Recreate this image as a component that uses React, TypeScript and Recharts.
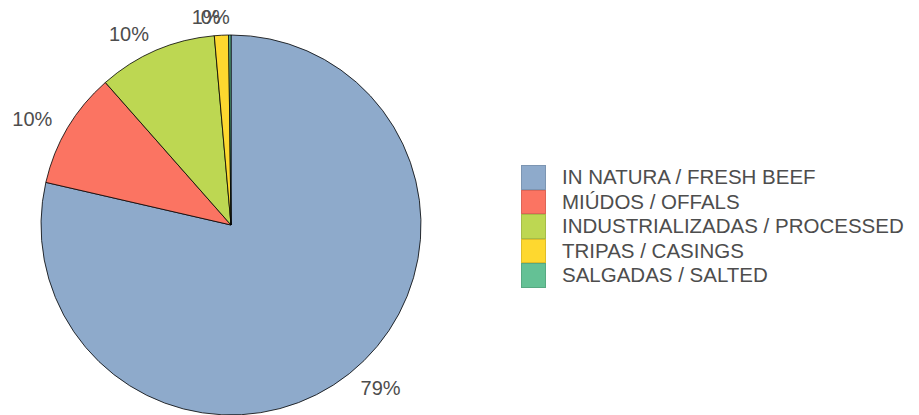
import { Pie, PieChart } from "recharts";

const categories = [
  "IN NATURA / FRESH BEEF",
  "MIÚDOS / OFFALS",
  "INDUSTRIALIZADAS / PROCESSED",
  "TRIPAS / CASINGS",
  "SALGADAS / SALTED"
];
const shares = [78.6, 9.9, 10.1, 1.2, 0.2];
const colors = ["#8eaacb", "#fb7462", "#bdd752", "#fed82f", "#64c195"];

const data = categories.map((name, i) => ({ name, value: shares[i], fill: colors[i] }));

const RADIAN = Math.PI / 180;
const FONT = "'Liberation Sans', Arial, sans-serif";

function renderLabel(props: any) {
  const { cx, cy, midAngle, outerRadius, percent } = props;
  const r = outerRadius + 18;
  const cos = Math.cos(-midAngle * RADIAN);
  const sin = Math.sin(-midAngle * RADIAN);
  const right = cos >= 0;
  return (
    <text
      x={cx + r * cos}
      y={cy + r * sin}
      textAnchor={right ? "start" : "end"}
      dominantBaseline="central"
      fill="#4d4d4d"
      fontSize={20}
      fontFamily={FONT}
    >
      {`${Math.round(percent * 100)}%`}
    </text>
  );
}

function LegendBox() {
  return (
    <div
      style={{
        position: "absolute",
        left: 521,
        top: 165,
        fontFamily: FONT,
        fontSize: 20.5,
        color: "#4d4d4d"
      }}
    >
      {categories.map((name, i) => (
        <div key={name} style={{ display: "flex", alignItems: "center", height: 24.6 }}>
          <div
            style={{
              width: 25,
              height: 24.6,
              boxSizing: "border-box",
              background: colors[i],
              border: "1px solid rgba(0,0,0,0.12)"
            }}
          />
          <span style={{ marginLeft: 16, whiteSpace: "nowrap", lineHeight: "24.6px" }}>{name}</span>
        </div>
      ))}
    </div>
  );
}

export default function App() {
  return (
    <div style={{ position: "fixed", left: 0, top: 0, width: 919, height: 415, background: "#fff" }}>
      <PieChart width={919} height={415} margin={{ top: 0, right: 0, bottom: 0, left: 0 }}>
        <Pie
          data={data}
          dataKey="value"
          nameKey="name"
          cx={231}
          cy={225}
          outerRadius={190}
          startAngle={90}
          endAngle={-270}
          stroke="#000"
          strokeWidth={0.8}
          label={renderLabel}
          labelLine={false}
          isAnimationActive={false}
        />
      </PieChart>
      <LegendBox />
    </div>
  );
}
